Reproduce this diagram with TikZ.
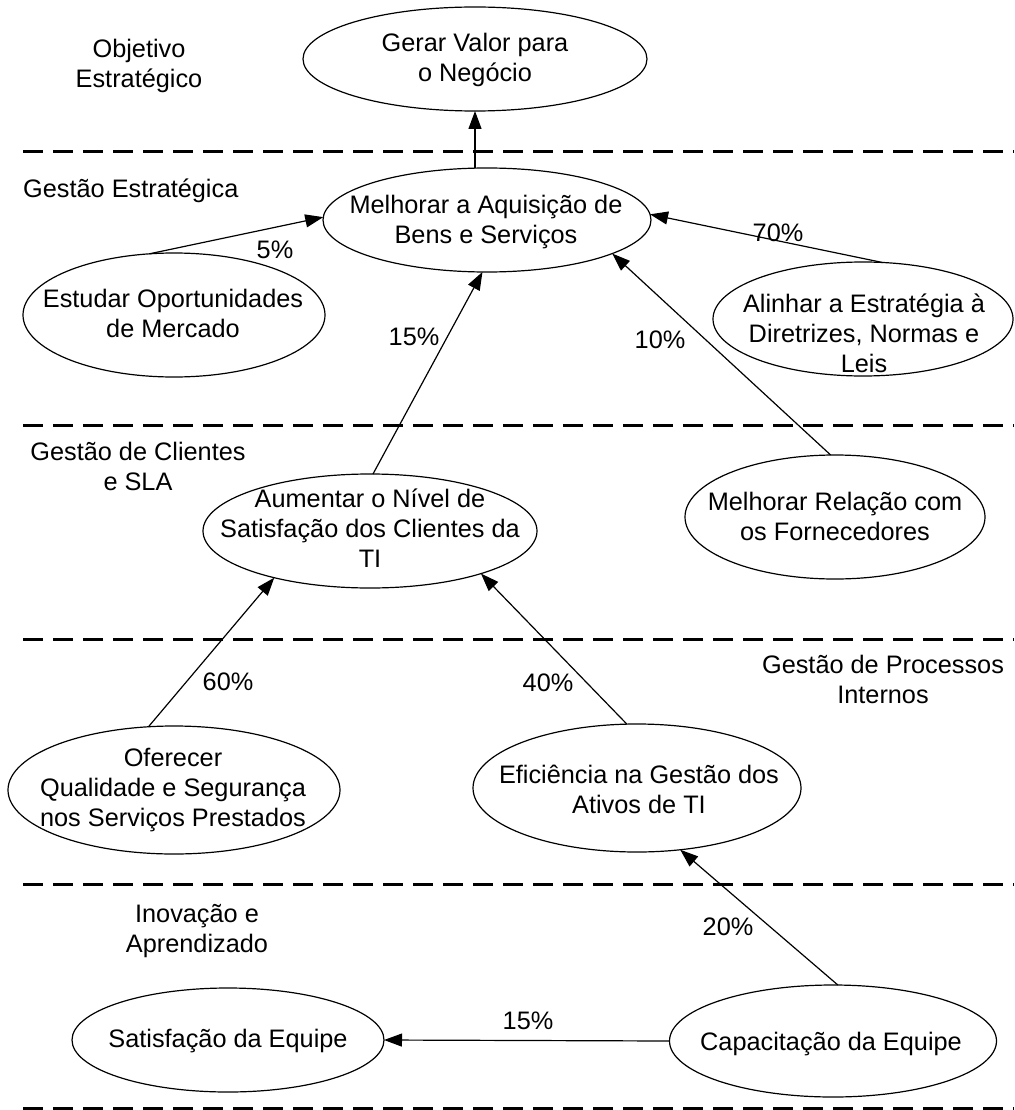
\documentclass[tikz,border=0pt]{standalone}
\usepackage{fontspec}
\setmainfont{Liberation Sans}
\usetikzlibrary{shapes.geometric,arrows.meta}
\begin{document}
\begin{tikzpicture}[x=1pt,y=-1pt,
  ell/.style={draw, ellipse, line width=1.2pt, inner sep=0pt, outer sep=0pt},
  txt/.style={align=center, anchor=base, inner sep=0pt, font=\fontsize{25.3}{30}\selectfont},
  lbl/.style={anchor=base, inner sep=0pt, font=\fontsize{25.3}{30}\selectfont},
  arr/.style={-{Triangle[length=18pt,width=13pt]}, line width=1.2pt},
  sepline/.style={line width=3pt, dash pattern=on 20pt off 10pt}]
\useasboundingbox (0,0) rectangle (1014,1110);

% separators
\foreach \yy [count=\i] in {152,425,639,884,1108}{
  \coordinate (sl\i) at (23,\yy);
  \coordinate (sr\i) at (1014,\yy);
  \draw[sepline] (sl\i) -- (sr\i);
}

% ellipses
\node[ell, minimum width=344pt, minimum height=104pt] (gerar) at (475,59) {};
\node[ell, minimum width=328pt, minimum height=104pt] (melh) at (487,220) {};
\node[ell, minimum width=302pt, minimum height=124pt] (estud) at (174,315) {};
\node[ell, minimum width=300pt, minimum height=114pt] (alin) at (863,319) {};
\node[ell, minimum width=300pt, minimum height=124pt] (relac) at (835,517) {};
\node[ell, minimum width=334pt, minimum height=114pt] (aument) at (370,531) {};
\node[ell, minimum width=332pt, minimum height=128pt] (oferec) at (174,790) {};
\node[ell, minimum width=328pt, minimum height=128pt] (efic) at (637,788) {};
\node[ell, minimum width=312pt, minimum height=104pt] (satis) at (228,1040) {};
\node[ell, minimum width=327pt, minimum height=112pt] (capac) at (833,1041) {};

% texts in ellipses (anchor base = baseline of the last line)
\node[txt] (gerar-t) at (475,82) {Gerar Valor para\\o Negócio};
\node[txt] (melh-t) at (486,243) {Melhorar a Aquisição de\\Bens e Serviços};
\node[txt] (estud-t) at (173,337) {Estudar Oportunidades\\de Mercado};
\node[txt] (alin-t) at (864,372) {Alinhar a Estratégia à\\Diretrizes, Normas e\\Leis};
\node[txt] (relac-t) at (835,540) {Melhorar Relação com\\os Fornecedores};
\node[txt] (aument-t) at (370,567) {Aumentar o Nível de\\Satisfação dos Clientes da\\TI};
\node[txt] (oferec-t) at (173,826) {Oferecer\\Qualidade e Segurança\\nos Serviços Prestados};
\node[txt] (efic-t) at (639,813) {Eficiência na Gestão dos\\Ativos de TI};
\node[txt] (satis-t) at (228,1047) {Satisfação da Equipe};
\node[txt] (capac-t) at (831,1050) {Capacitação da Equipe};

% perspective labels
\node[txt] (obj) at (139,88) {Objetivo\\Estratégico};
\node[lbl, anchor=base west] (gest) at (23,197) {Gestão Estratégica};
\node[txt] (cli) at (138,490) {Gestão de Clientes\\e SLA};
\node[txt] (proc) at (883,703) {Gestão de Processos\\Internos};
\node[txt] (inov) at (197,952) {Inovação e\\Aprendizado};

% connectors
\draw[arr] (gerar.south |- melh.north) -- (gerar.south);
\draw[arr] (estud.112.8) -- (melh.179);
\draw[arr] (alin.71.6) -- (melh.2.5);
\draw[arr] (relac.94.6) -- (melh.-15.5);
\draw[arr] (aument.87) -- (melh.-95.3);
\draw[arr] (oferec.112) -- (aument.206.3);
\draw[arr] (efic.99) -- (aument.-21.8);
\draw[arr] (capac.85) -- (efic.-55.3);
\draw[arr] (capac.west) -- (satis.east);

% weights
\node[lbl] (w1) at (275,258) {5\%};
\node[lbl] (w2) at (778,241) {70\%};
\node[lbl] (w3) at (660,348) {10\%};
\node[lbl] (w4) at (414,345) {15\%};
\node[lbl] (w5) at (228,690) {60\%};
\node[lbl] (w6) at (548,691) {40\%};
\node[lbl] (w7) at (728,935) {20\%};
\node[lbl] (w8) at (528,1029) {15\%};
\end{tikzpicture}
\end{document}
